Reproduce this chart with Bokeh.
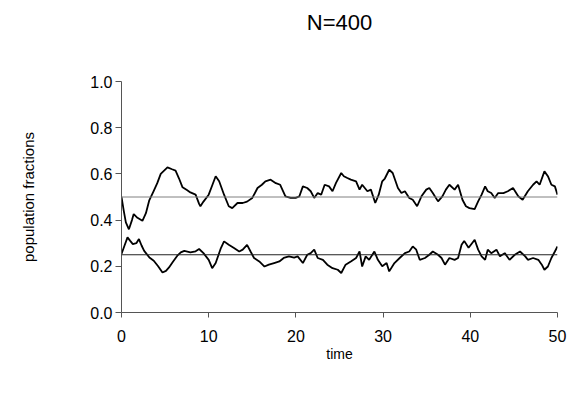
from bokeh.plotting import figure
from bokeh.models import Range1d, Span, FixedTicker, Title, CustomJSTickFormatter
from bokeh.embed import file_html
from bokeh.resources import INLINE

title_text = "N=400"
x_label = "time"
y_label = "population fractions"
x_ticks = [0, 10, 20, 30, 40, 50]
y_ticks = [0.0, 0.2, 0.4, 0.6, 0.8, 1.0]
ref_levels = [0.5, 0.25]

t_upper = [0.0, 0.26, 0.5, 0.85, 1.2, 1.4, 1.83, 2.4, 2.8, 3.17, 3.7, 4.1, 4.5, 5.27, 5.8, 6.2, 6.6, 7.0, 7.5, 7.9,
           8.5, 8.9, 9.05, 9.4, 10.0, 10.4, 10.8, 11.2, 11.76, 12.3, 12.7, 13.3, 13.9, 14.4, 15.0, 15.6, 16.1, 16.5,
           17.1, 17.7, 18.2, 18.8, 19.4, 19.97, 20.4, 20.8, 21.3, 21.7, 22.1, 22.5, 22.9, 23.3, 23.8, 24.2, 24.6,
           25.2, 25.5, 25.9, 26.3, 26.9, 27.3, 27.6, 28.2, 28.6, 29.1, 29.5, 29.9, 30.2, 30.7, 31.1, 31.7, 32.1,
           32.5, 33.0, 33.4, 33.9, 34.4, 34.95, 35.3, 35.7, 36.3, 36.8, 37.2, 37.6, 38.2, 38.6, 39.1, 39.5, 39.9,
           40.5, 40.9, 41.3, 41.7, 42.0, 42.4, 42.8, 43.2, 43.8, 44.3, 44.9, 45.5, 46.0, 46.6, 47.2, 47.6, 47.95,
           48.5, 48.9, 49.3, 49.7, 50.0]
y_upper = [0.50, 0.44, 0.39, 0.36, 0.40, 0.426, 0.41, 0.397, 0.43, 0.484, 0.527, 0.56, 0.60, 0.628, 0.62, 0.614,
           0.58, 0.542, 0.53, 0.52, 0.51, 0.47, 0.46, 0.48, 0.51, 0.55, 0.59, 0.568, 0.51, 0.46, 0.452, 0.474,
           0.474, 0.48, 0.496, 0.539, 0.553, 0.568, 0.575, 0.56, 0.553, 0.503, 0.496, 0.496, 0.503, 0.546, 0.539,
           0.525, 0.496, 0.517, 0.51, 0.553, 0.546, 0.525, 0.561, 0.604, 0.59, 0.582, 0.575, 0.568, 0.532, 0.553,
           0.525, 0.532, 0.474, 0.51, 0.568, 0.58, 0.618, 0.604, 0.539, 0.517, 0.525, 0.496, 0.488, 0.46, 0.503,
           0.532, 0.539, 0.517, 0.481, 0.503, 0.532, 0.553, 0.532, 0.553, 0.488, 0.46, 0.452, 0.448, 0.481, 0.51,
           0.546, 0.525, 0.517, 0.496, 0.517, 0.517, 0.525, 0.539, 0.503, 0.488, 0.525, 0.553, 0.568, 0.553,
           0.611, 0.59, 0.553, 0.546, 0.51]

t_lower = [0.0, 0.35, 0.69, 1.0, 1.3, 1.7, 2.0, 2.3, 2.6, 3.2, 3.7, 4.2, 4.7, 5.1, 5.45, 5.9, 6.4, 6.8, 7.2, 7.9,
           8.5, 8.9, 9.4, 10.0, 10.4, 10.8, 11.4, 11.76, 12.3, 12.9, 13.5, 13.9, 14.4, 14.8, 15.2, 15.8, 16.4,
           16.9, 17.5, 18.1, 18.6, 19.2, 19.8, 20.2, 20.8, 21.3, 21.7, 22.1, 22.5, 23.1, 23.6, 24.2, 24.8, 25.2,
           25.7, 26.3, 26.9, 27.3, 27.6, 28.0, 28.4, 29.0, 29.4, 29.9, 30.4, 30.7, 31.3, 31.9, 32.5, 33.0, 33.4,
           33.8, 34.2, 34.8, 35.3, 35.7, 36.3, 36.7, 37.1, 37.6, 38.2, 38.6, 39.0, 39.3, 39.8, 40.2, 40.5, 40.9,
           41.3, 41.7, 42.0, 42.4, 43.0, 43.4, 43.95, 44.5, 45.1, 45.7, 46.3, 46.6, 47.2, 47.8, 48.2, 48.5, 48.9,
           49.3, 49.7, 50.0]
y_lower = [0.253, 0.29, 0.325, 0.31, 0.296, 0.30, 0.318, 0.29, 0.267, 0.238, 0.224, 0.20, 0.173, 0.18, 0.195,
           0.22, 0.246, 0.26, 0.267, 0.26, 0.265, 0.275, 0.257, 0.228, 0.192, 0.214, 0.279, 0.308, 0.293, 0.279,
           0.264, 0.272, 0.293, 0.264, 0.236, 0.221, 0.199, 0.207, 0.214, 0.221, 0.236, 0.243, 0.238, 0.243,
           0.214, 0.25, 0.257, 0.272, 0.236, 0.228, 0.207, 0.192, 0.185, 0.171, 0.207, 0.221, 0.236, 0.264,
           0.199, 0.243, 0.228, 0.264, 0.228, 0.2, 0.214, 0.178, 0.214, 0.236, 0.257, 0.264, 0.286, 0.272, 0.228,
           0.236, 0.25, 0.264, 0.25, 0.236, 0.207, 0.236, 0.228, 0.236, 0.293, 0.31, 0.28, 0.30, 0.315, 0.272,
           0.243, 0.228, 0.272, 0.257, 0.272, 0.243, 0.257, 0.228, 0.25, 0.264, 0.243, 0.228, 0.236, 0.228,
           0.207, 0.185, 0.199, 0.236, 0.264, 0.286]

FONT = "Liberation Sans"

p = figure(width=569, height=386, output_backend="svg", toolbar_location=None,
           x_range=Range1d(0, 50), y_range=Range1d(0, 1),
           min_border_left=121, min_border_right=12, min_border_top=81, min_border_bottom=74)
p.outline_line_color = None
p.xgrid.visible = False
p.ygrid.visible = False
p.background_fill_color = "white"
p.border_fill_color = "white"

# outer title, with an inner spacer panel that keeps it well above the frame
p.title = Title(text=title_text, align="center", vertical_align="top", text_font=FONT,
                text_font_size="22px", text_font_style="normal", text_color="black", standoff=0)
p.add_layout(Title(text=" ", text_font_size="1px", standoff=42), "above")

for ax, ticks in ((p.xaxis[0], x_ticks), (p.yaxis[0], y_ticks)):
    ax.ticker = FixedTicker(ticks=ticks)
    ax.minor_tick_line_color = None
    ax.major_tick_in = 0
    ax.axis_line_color = "#555555"
    ax.major_tick_line_color = "#555555"
    ax.major_label_text_font = FONT
    ax.major_label_text_font_size = "16px"
    ax.major_label_text_color = "black"
    ax.axis_label_text_font = FONT
    ax.axis_label_text_font_style = "normal"
    ax.axis_label_text_color = "black"

p.xaxis.major_tick_out = 5
p.xaxis.major_label_standoff = 12
p.xaxis.axis_label = x_label
p.xaxis.axis_label_text_font_size = "14px"
p.xaxis.axis_label_standoff = 1
p.yaxis.major_tick_out = 6
p.yaxis.major_label_standoff = 3
p.yaxis.formatter = CustomJSTickFormatter(code="return tick.toFixed(1);")
p.yaxis.axis_label = y_label
p.yaxis.axis_label_text_font_size = "15px"
p.yaxis.axis_label_standoff = 50

p.add_layout(Span(location=ref_levels[0], dimension="width", line_color="#808080", line_width=1))
p.add_layout(Span(location=ref_levels[1], dimension="width", line_color="#222222", line_width=1))

p.line(t_upper, y_upper, line_color="black", line_width=1.8)
p.line(t_lower, y_lower, line_color="black", line_width=1.8)

open("out.html", "w").write(file_html(p, INLINE))
